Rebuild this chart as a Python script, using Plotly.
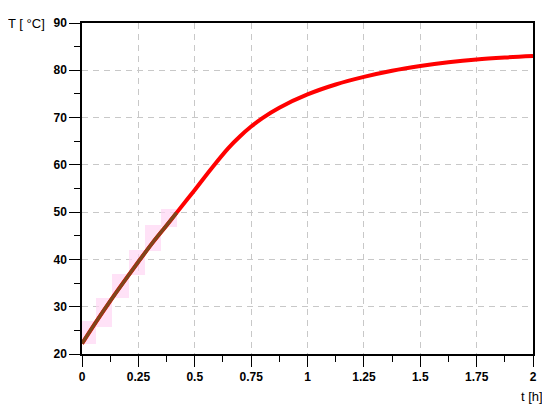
import plotly.graph_objects as go

# Temperature curve
t_vals = [0, 0.0625, 0.125, 0.1875, 0.25, 0.3125, 0.375, 0.42, 0.5, 0.575, 0.65, 0.7, 0.75, 0.8,
          0.875, 1.0, 1.125, 1.25, 1.375, 1.5, 1.625, 1.75, 1.875, 2.0]
T_vals = [22.2, 26.8, 31.2, 35.4, 39.5, 43.5, 47.2, 49.9, 54.7, 59.3, 63.6, 66.0, 68.1, 69.9,
          72.1, 74.9, 77.0, 78.6, 79.9, 80.9, 81.7, 82.3, 82.7, 83.0]

# Measured part (brown)
t_meas = [0, 0.0625, 0.125, 0.1875, 0.25, 0.3125, 0.375, 0.42]
T_meas = [22.2, 26.8, 31.2, 35.4, 39.5, 43.5, 47.2, 49.9]

# Pink staircase blocks
blk_t0 = [0.0, 0.062, 0.135, 0.21, 0.28, 0.35]
blk_t1 = [0.062, 0.135, 0.21, 0.28, 0.35, 0.42]
blk_lo = [22.1, 25.7, 31.9, 36.8, 41.7, 46.9]
blk_hi = [26.9, 31.9, 37.0, 42.0, 47.2, 50.6]

x_ticks = [0, 0.25, 0.5, 0.75, 1, 1.25, 1.5, 1.75, 2]
x_labels = ["0", "0.25", "0.5", "0.75", "1", "1.25", "1.5", "1.75", "2"]
y_ticks = [20, 30, 40, 50, 60, 70, 80, 90]

fig = go.Figure()

fig.add_trace(go.Bar(
    x=[(a + b) / 2 for a, b in zip(blk_t0, blk_t1)],
    width=[b - a for a, b in zip(blk_t0, blk_t1)],
    base=blk_lo,
    y=[h - l for h, l in zip(blk_hi, blk_lo)],
    marker=dict(color="rgba(255,214,244,0.7)", line=dict(width=0)),
    hoverinfo="skip", showlegend=False,
))

fig.add_trace(go.Scatter(x=t_vals, y=T_vals, mode="lines",
                         line=dict(color="#ff0000", width=4, shape="spline", smoothing=1.0),
                         showlegend=False))
fig.add_trace(go.Scatter(x=t_meas, y=T_meas, mode="lines",
                         line=dict(color="#80451a", width=3.5, shape="spline", smoothing=1.0),
                         showlegend=False))

tickfont = dict(family="Liberation Sans, Arial, sans-serif", size=12, color="black", weight="bold")

fig.update_layout(
    width=542, height=400,
    margin=dict(l=74, r=17, t=8, b=54),
    paper_bgcolor="white", plot_bgcolor="white",
    barmode="overlay", bargap=0,
    font=dict(family="Liberation Sans, Arial, sans-serif", size=13, color="black"),
    xaxis=dict(range=[0, 2], tickvals=x_ticks, ticktext=x_labels,
               showline=True, linecolor="black", linewidth=1.5, mirror=True,
               ticks="outside", ticklen=11, tickwidth=1.2, tickcolor="black",
               minor=dict(dtick=0.125, ticks="outside", ticklen=6, tickwidth=1.2, tickcolor="black", showgrid=False),
               showgrid=True, gridcolor="#c8c8c8", gridwidth=1, griddash="6px,5px",
               zeroline=False, tickfont=tickfont),
    yaxis=dict(range=[20, 90], tickvals=y_ticks,
               showline=True, linecolor="black", linewidth=1.5, mirror=True,
               ticks="outside", ticklen=11, tickwidth=1.2, tickcolor="black",
               minor=dict(dtick=5, ticks="outside", ticklen=6, tickwidth=1.2, tickcolor="black", showgrid=False),
               showgrid=True, gridcolor="#c8c8c8", gridwidth=1, griddash="6px,5px",
               zeroline=False, tickfont=tickfont),
    annotations=[
        dict(text="T [ °C]", xref="paper", yref="paper", x=-0.077, y=1.0,
             xanchor="right", yanchor="middle", showarrow=False, font=dict(size=13)),
        dict(text="t [h]", xref="paper", yref="paper", x=0.998, y=-0.127,
             xanchor="center", yanchor="middle", showarrow=False, font=dict(size=13)),
    ],
)

fig.write_html("out.html")
